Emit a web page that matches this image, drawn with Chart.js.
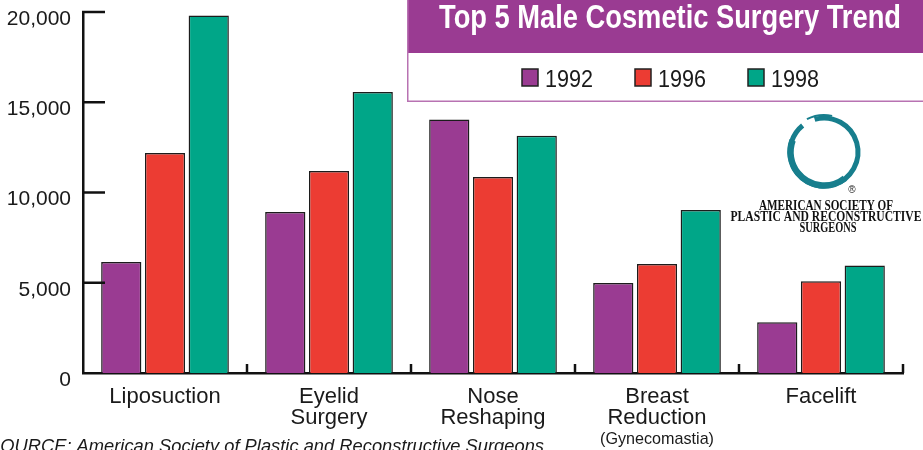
<!DOCTYPE html>
<html><head><meta charset="utf-8">
<script src="https://cdn.jsdelivr.net/npm/chart.js@4"></script>
<style>html,body{margin:0;padding:0;background:#fff;overflow:hidden}#wrap{width:923px;height:450px;position:relative}</style>
</head><body><div id="wrap"><canvas id="c" width="923" height="450"></canvas></div>
<script>
const categories = [["Liposuction"],["Eyelid","Surgery"],["Nose","Reshaping"],["Breast","Reduction"],["Facelift"]];
const categoryNotes = ["","","","(Gynecomastia)",""];
const seriesNames = ["1992","1996","1998"];
const values1992 = [6150, 8920, 14050, 4990, 2810];
const values1996 = [12190, 11190, 10860, 6040, 5080];
const values1998 = [19800, 15570, 13150, 9030, 5950];
const seriesColors = ["#9a3b92", "#ec3c33", "#00a688"];
const yTicks = [0, 5000, 10000, 15000, 20000];
const titleText = "Top 5 Male Cosmetic Surgery Trend";
const sourceText = "SOURCE: American Society of Plastic and Reconstructive Surgeons";
const logoLines = ["AMERICAN SOCIETY OF", "PLASTIC AND RECONSTRUCTIVE", "SURGEONS"];

const SANS = "'Liberation Sans', Arial, sans-serif";
const NARROW = "'Liberation Sans Narrow', 'Liberation Sans', Arial, sans-serif";

const extras = {
  id: 'extras',
  afterDraw(chart) {
    const ctx = chart.ctx;
    const xs = chart.scales.x, ys = chart.scales.y;
    ctx.save();
    // inward y ticks
    ctx.strokeStyle = '#111'; ctx.lineWidth = 2.5; ctx.lineCap = 'butt';
    yTicks.forEach(v => {
      if (v === 0) return;
      const y = ys.getPixelForValue(v);
      ctx.beginPath(); ctx.moveTo(ys.right - 1, y); ctx.lineTo(ys.right + 22, y); ctx.stroke();
    });
    // category divider ticks
    for (let i = 1; i <= categories.length; i++) {
      const x = xs.getPixelForValue(i - 0.5);
      ctx.beginPath(); ctx.moveTo(x, xs.top); ctx.lineTo(x, xs.top - 9); ctx.stroke();
    }
    // category notes
    ctx.fillStyle = '#1a1a1a'; ctx.textAlign = 'center'; ctx.textBaseline = 'alphabetic';
    ctx.font = "17px " + SANS;
    categoryNotes.forEach((n, i) => {
      if (!n) return;
      ctx.fillText(n, xs.getPixelForValue(i), 444, 114);
    });
    // source
    ctx.textAlign = 'left';
    ctx.font = "italic 19px " + SANS;
    ctx.fillText(sourceText, -12, 452, 556);
    // title band
    ctx.fillStyle = '#9a3b92';
    ctx.fillRect(407, 0, 516, 53);
    ctx.fillStyle = '#fff';
    ctx.fillRect(407, 53, 516, 49);
    ctx.strokeStyle = '#b872b2'; ctx.lineWidth = 1.5;
    ctx.beginPath(); ctx.moveTo(407.75, 0); ctx.lineTo(407.75, 101.25); ctx.lineTo(923, 101.25); ctx.stroke();
    ctx.fillStyle = '#fff'; ctx.textAlign = 'center';
    ctx.font = "bold 33px " + NARROW;
    ctx.fillText(titleText, 670, 28, 462);
    // legend
    const legendX = [522, 635, 748];
    chart.data.datasets.forEach((ds, i) => {
      const x = legendX[i];
      ctx.fillStyle = ds.backgroundColor;
      ctx.fillRect(x, 69, 16, 17);
      ctx.strokeStyle = '#222'; ctx.lineWidth = 1.5;
      ctx.strokeRect(x, 69, 16, 17);
      ctx.fillStyle = '#1a1a1a'; ctx.textAlign = 'left';
      ctx.font = "23px " + SANS;
      ctx.fillText(ds.label, x + 23, 87, 48);
    });
    // logo
    const cx = 824, cy = 152;
    ctx.strokeStyle = '#177e8d';
    ctx.lineWidth = 5;
    ctx.beginPath(); ctx.arc(cx, cy, 34, -1.85, -1.85 + 2 * Math.PI - 0.4); ctx.stroke();
    ctx.lineWidth = 6.5;
    ctx.beginPath(); ctx.arc(cx, cy, 33.5, 0.9, 3.5); ctx.stroke();
    ctx.lineWidth = 2;
    ctx.beginPath(); ctx.arc(cx, cy, 37, -2.05, -1.35); ctx.stroke();
    ctx.fillStyle = '#222'; ctx.font = "10px " + SANS; ctx.textAlign = 'center';
    ctx.fillText('®', 852, 193);
    ctx.fillStyle = '#111';
    ctx.font = "bold 15.5px 'Liberation Serif', 'Times New Roman', serif";
    ctx.fillText(logoLines[0], 826, 210, 134);
    ctx.fillText(logoLines[1], 826, 221, 191);
    ctx.fillText(logoLines[2], 828, 231.5, 57);
    ctx.restore();
  }
};

new Chart(document.getElementById('c'), {
  type: 'bar',
  data: {
    labels: categories,
    datasets: [values1992, values1996, values1998].map((vals, i) => ({
      label: seriesNames[i],
      data: vals,
      backgroundColor: seriesColors[i],
      borderColor: '#1c1c1c',
      borderWidth: 1.5,
      borderSkipped: 'bottom',
      categoryPercentage: 0.8,
      barPercentage: 0.92
    }))
  },
  options: {
    responsive: false,
    animation: false,
    devicePixelRatio: 1,
    layout: { padding: { top: 12, right: 20, left: 0, bottom: 0 } },
    plugins: { legend: { display: false }, title: { display: false }, tooltip: { enabled: false } },
    scales: {
      x: {
        offset: true,
        grid: { display: false, drawTicks: false },
        border: { display: true, color: '#111', width: 2.5 },
        ticks: { color: '#1a1a1a', font: { family: SANS, size: 22, lineHeight: 0.98 }, padding: 13, maxRotation: 0, autoSkip: false },
        afterFit: s => { s.height = 77; s.paddingLeft = 0; s.paddingRight = 0; }
      },
      y: {
        min: 0, max: 20000,
        afterBuildTicks: s => { s.ticks = yTicks.map(v => ({ value: v })); },
        grid: { display: false, drawTicks: false },
        border: { display: true, color: '#111', width: 2.5 },
        ticks: { color: '#1a1a1a', font: { family: SANS, size: 21 }, padding: 12, labelOffset: 7,
          callback: v => Number(v).toLocaleString('en-US') },
        afterFit: s => { s.width = 83; s.paddingTop = 0; s.paddingBottom = 0; }
      }
    }
  },
  plugins: [extras]
});
</script>
</body></html>
